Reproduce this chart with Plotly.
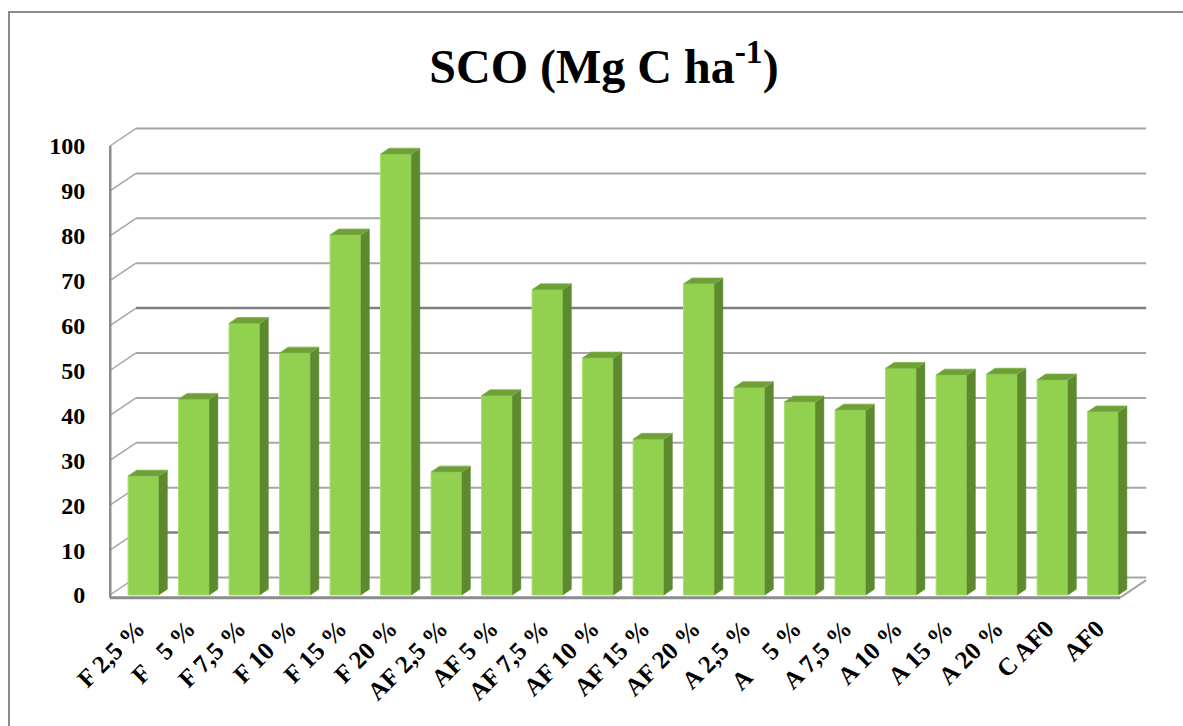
import plotly.graph_objects as go

# ---------------- data ----------------
categories = ["F 2,5 %", "F\u00a0\u00a0\u00a05 %", "F 7,5 %", "F 10 %", "F 15 %", "F 20 %",
              "AF 2,5 %", "AF 5 %", "AF 7,5 %", "AF 10 %", "AF 15 %", "AF 20 %",
              "A 2,5 %", "A\u00a0\u00a0\u00a0\u00a05 %", "A 7,5 %", "A 10 %", "A 15 %", "A 20 %",
              "C AF0", "AF0"]
sco_values = [26.5, 43.6, 60.5, 53.9, 80.2, 98.2,
              27.4, 44.4, 68.0, 52.8, 34.7, 69.3,
              46.2, 43.0, 41.2, 50.5, 49.0, 49.2,
              47.9, 40.8]
y_ticks = list(range(0, 101, 10))
title_text = "<b>SCO (Mg C ha<sup>-1</sup>)</b>"

# ---------------- styling / geometry ----------------
FRONT = "#92D050"
SIDE = "#5E8A2F"
TOP = "#6FA037"
GRID = "#A6A6A6"
GRID_DARK = "#7F7F7F"
WALL = "#8C8C8C"
BAR_W = 0.61          # front face width (category units)
DEPTH_X = 0.168       # bar depth offset in x
DEPTH_Y = 1.3         # bar depth offset in y
X0 = -0.663           # left wall front position
DX = 0.515            # wall depth in x
DY = 3.9              # wall depth in y
XF = 19.34            # floor front right end
XEND = XF + DX
FLOOR_Y = -0.6

xs = list(range(len(categories)))

fig = go.Figure()

# front faces
fig.add_trace(go.Bar(
    x=xs, y=sco_values, width=BAR_W,
    marker=dict(color=FRONT, line=dict(color="#A4DD68", width=1)),
    hoverinfo="x+y", showlegend=False,
))

# side faces & top faces (polygons derived from the data)
side_x, side_y, top_x, top_y = [], [], [], []
for xi, v in zip(xs, sco_values):
    xl = xi - BAR_W / 2
    xr = xi + BAR_W / 2
    side_x += [xr, xr, xr + DEPTH_X, xr + DEPTH_X, xr, None]
    side_y += [0, v, v + DEPTH_Y, DEPTH_Y, 0, None]
    top_x += [xl, xr, xr + DEPTH_X, xl + DEPTH_X, xl, None]
    top_y += [v, v, v + DEPTH_Y, v + DEPTH_Y, v, None]

fig.add_trace(go.Scatter(x=side_x, y=side_y, mode="lines", fill="toself",
                         fillcolor=SIDE, line=dict(color=SIDE, width=0.5),
                         hoverinfo="skip", showlegend=False))
fig.add_trace(go.Scatter(x=top_x, y=top_y, mode="lines", fill="toself",
                         fillcolor=TOP, line=dict(color="#7DB446", width=0.8),
                         hoverinfo="skip", showlegend=False))

shapes = []
# walls gridlines
for v in y_ticks:
    col = GRID_DARK if v in (10, 60) else GRID
    wid = 2.5 if v in (10, 60) else 2
    shapes.append(dict(type="line", xref="x", yref="y", x0=X0, y0=v, x1=X0 + DX, y1=v + DY,
                       line=dict(color=GRID, width=1.5), layer="below"))
    shapes.append(dict(type="line", xref="x", yref="y", x0=X0 + DX, y0=v + DY, x1=XEND, y1=v + DY,
                       line=dict(color=col, width=wid), layer="below"))
# left wall front vertical
shapes.append(dict(type="line", xref="x", yref="y", x0=X0, y0=100, x1=X0, y1=FLOOR_Y,
                   line=dict(color=WALL, width=3), layer="below"))
# floor front edge and right diagonal
shapes.append(dict(type="line", xref="x", yref="y", x0=X0, y0=FLOOR_Y, x1=XF, y1=FLOOR_Y,
                   line=dict(color=WALL, width=3), layer="below"))
shapes.append(dict(type="line", xref="x", yref="y", x0=XF, y0=FLOOR_Y, x1=XEND, y1=FLOOR_Y + DY,
                   line=dict(color=GRID, width=2), layer="below"))
# outer chart border
shapes.append(dict(type="rect", xref="paper", yref="paper",
                   x0=(9 - 109) / 1038, y0=-0.6, x1=1.2, y1=(602 - 12) / 477,
                   line=dict(color="#8C8C8C", width=2), fillcolor="rgba(0,0,0,0)", layer="below"))

fig.update_layout(
    width=1183, height=726,
    margin=dict(l=109, r=36, t=125, b=124),
    paper_bgcolor="white", plot_bgcolor="rgba(0,0,0,0)",
    title=dict(text=title_text, x=604 / 1183, xanchor="center", y=1 - 66 / 726, yanchor="middle",
               font=dict(family="Liberation Serif", size=48, color="black")),
    shapes=shapes,
    showlegend=False,
    xaxis=dict(range=[-0.683, 19.871], tickmode="array", tickvals=xs, ticktext=categories,
               tickangle=-45, showgrid=False, zeroline=False, showline=False,
               ticks="outside", ticklen=1, tickcolor="rgba(0,0,0,0)",
               ticklabelshift=-6,
               tickfont=dict(family="Liberation Serif", size=25, color="black", weight="bold")),
    yaxis=dict(range=[-1.559, 104.677], tickmode="array", tickvals=y_ticks,
               showgrid=False, zeroline=False, showline=False,
               ticks="outside", ticklen=18, tickcolor="rgba(0,0,0,0)",
               tickfont=dict(family="Liberation Serif", size=24, color="black", weight="bold")),
)

fig.write_html("out.html")
